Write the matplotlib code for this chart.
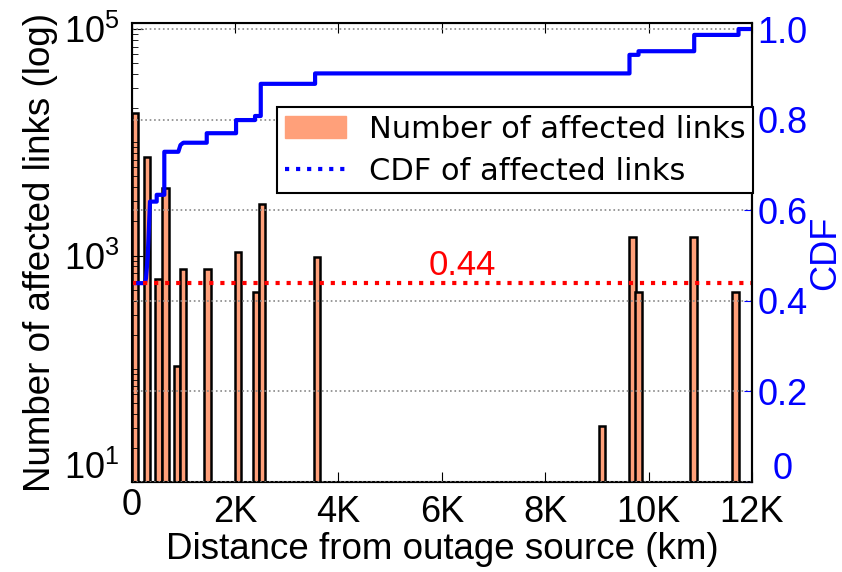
import matplotlib
matplotlib.use("Agg")
import matplotlib.pyplot as plt
from matplotlib.lines import Line2D
from matplotlib.patches import Patch
from matplotlib.ticker import FixedLocator, NullFormatter
from matplotlib.transforms import ScaledTranslation

# bar centres (km) and number of affected links
bar_km = [64, 296, 523, 654, 877, 997, 1467, 2057, 2406, 2526, 3580, 9102, 9689, 9805, 10867, 11682]
bar_links = [18240, 7450, 617, 3920, 104, 760, 760, 1067, 479, 2830, 970, 30, 1466, 479, 1460, 479]
BAR_WIDTH = 125

# CDF polyline vertices
cdf_km = [0, 257, 277, 310, 354, 484, 484, 631, 631, 902, 944, 999, 1452, 1452, 2019, 2019, 2386, 2386,
          2497, 2497, 3548, 3548, 9630, 9630, 9805, 9805, 10882, 10882, 11740, 11740, 12000]
cdf_val = [0.439, 0.439, 0.450, 0.497, 0.619, 0.619, 0.634, 0.634, 0.729, 0.729, 0.744, 0.749, 0.749, 0.770,
           0.770, 0.799, 0.799, 0.808, 0.808, 0.879, 0.879, 0.902, 0.902, 0.943, 0.943, 0.951, 0.951, 0.987,
           0.987, 1.0, 1.0]
MEDIAN_CDF = 0.44

x_ticks = [0, 2000, 4000, 6000, 8000, 10000, 12000]
x_labels = ["0", "2K", "4K", "6K", "8K", "10K", "12K"]
y_ticks = [10, 1e3, 1e5]
y_labels = [r"$10^1$", r"$10^3$", r"$10^5$"]
cdf_ticks = [0, 0.2, 0.4, 0.6, 0.8, 1.0]
cdf_labels = ["0", "0.2", "0.4", "0.6", "0.8", "1.0"]

plt.rcParams.update({"font.family": ["Liberation Sans", "DejaVu Sans"], "font.size": 26,
                     "mathtext.fontset": "custom", "mathtext.rm": "Liberation Sans",
                     "mathtext.it": "Liberation Sans", "mathtext.default": "regular"})

fig = plt.figure(figsize=(8.42, 5.72), dpi=100)
ax = fig.add_axes([0.1564, 0.1573, 0.7367, 0.8025])
ax.bar(bar_km, bar_links, width=BAR_WIDTH, bottom=1, color="#ffa07a", edgecolor="black", linewidth=1.8)
ax.set_yscale("log")
ax.set_xlim(0, 12000)
ax.set_ylim(10, 10**5.053)
ax.yaxis.set_major_locator(FixedLocator(y_ticks))
minor = [s * 10**e for e in range(1, 5) for s in range(1, 10) if not (s == 1 and e in (1, 3))]
ax.yaxis.set_minor_locator(FixedLocator(minor))
ax.yaxis.set_minor_formatter(NullFormatter())
ax.set_yticklabels(y_labels)
ax.set_xticks(x_ticks)
ax.set_xticklabels(x_labels)
ax.tick_params(which="both", direction="in", top=True, right=False)
ax.tick_params(axis="y", which="major", length=8, pad=9)
ax.tick_params(axis="y", which="minor", length=4)
ax.tick_params(axis="x", length=7, pad=9)
ax.set_xlabel("Distance from outage source (km)", fontsize=26.5, labelpad=2)
ax.set_ylabel("Number of affected links (log)", fontsize=26.5, labelpad=4)
for spine in ax.spines.values():
    spine.set_linewidth(1.5)

ax2 = ax.twinx()
ax2.set_ylim(0, 1.0133)
ax2.set_yticks(cdf_ticks)
ax2.set_yticklabels(cdf_labels, color="blue")
ax2.tick_params(axis="y", direction="in", colors="blue", labelcolor="blue", length=6, pad=4)
ax2.grid(True, axis="y", linestyle=":", color="#888888", linewidth=1.2)
ax2.plot(cdf_km, cdf_val, color="blue", linewidth=3)
ax2.axhline(MEDIAN_CDF, color="red", linestyle=":", linewidth=3)
ax2.text(6390, 0.479, f"{MEDIAN_CDF:.2f}", color="red", ha="center", va="center", fontsize=25)
ax2.set_ylabel("CDF", color="blue", fontsize=26, labelpad=0)
ax2.spines["right"].set_linewidth(1.5)

handles = [Patch(facecolor="#ffa07a", edgecolor="#ffa07a"),
           Line2D([], [], color="blue", linestyle=":", linewidth=3)]
leg = ax2.legend(handles, ["Number of affected links", "CDF of affected links"], loc="upper left",
                 bbox_to_anchor=(0.2347, 0.8163), borderaxespad=0, fancybox=False, framealpha=1,
                 edgecolor="black", prop={"family": "DejaVu Sans", "size": 22}, handlelength=2.0,
                 handleheight=0.75, handletextpad=0.75, labelspacing=0.42, borderpad=0.25)
leg.get_frame().set_linewidth(1.5)

# corner labels sit a little apart in the reference
shift = lambda dx, dy: ScaledTranslation(dx / 100, dy / 100, fig.dpi_scale_trans)
for lab, dx, dy in ((ax.get_xticklabels()[0], 0, 7), (ax.get_yticklabels()[0], 0, 17),
                    (ax2.get_yticklabels()[0], 15, 17)):
    lab.set_transform(lab.get_transform() + shift(dx, dy))

fig.savefig("out.png", dpi=100)
